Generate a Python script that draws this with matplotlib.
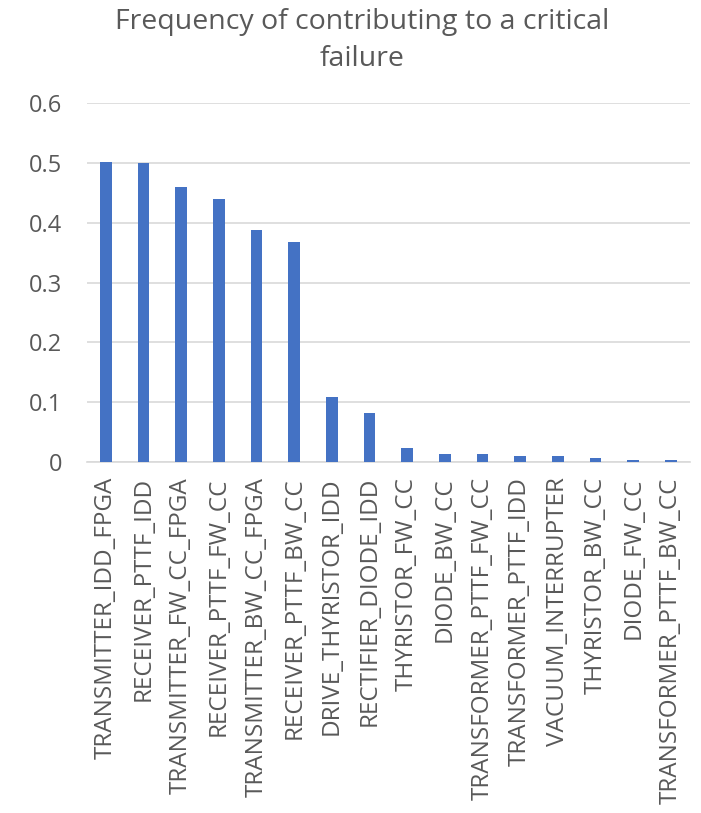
import matplotlib
matplotlib.use("Agg")
import matplotlib.pyplot as plt

# contribution frequency of each component to a critical failure
components = [
    "TRANSMITTER_IDD_FPGA", "RECEIVER_PTTF_IDD", "TRANSMITTER_FW_CC_FPGA",
    "RECEIVER_PTTF_FW_CC", "TRANSMITTER_BW_CC_FPGA", "RECEIVER_PTTF_BW_CC",
    "DRIVE_THYRISTOR_IDD", "RECTIFIER_DIODE_IDD", "THYRISTOR_FW_CC",
    "DIODE_BW_CC", "TRANSFORMER_PTTF_FW_CC", "TRANSFORMER_PTTF_IDD",
    "VACUUM_INTERRUPTER", "THYRISTOR_BW_CC", "DIODE_FW_CC",
    "TRANSFORMER_PTTF_BW_CC",
]
frequency = [0.502, 0.500, 0.460, 0.439, 0.388, 0.368, 0.108, 0.081,
             0.023, 0.013, 0.013, 0.010, 0.010, 0.007, 0.003, 0.003]
y_ticks = [0, 0.1, 0.2, 0.3, 0.4, 0.5, 0.6]

grey = "#595959"
plt.rcParams["font.family"] = ["Open Sans", "DejaVu Sans"]

fig = plt.figure(figsize=(7.01, 8.13), dpi=100)
ax = fig.add_axes([0.124, 0.432, 0.860, 0.441])

x = range(len(components))
ax.bar(x, frequency, width=0.31, color="#4472C4", zorder=3)

ax.set_xlim(-0.5, len(components) - 0.5)
ax.set_ylim(0, 0.6)
ax.set_yticks(y_ticks)
ax.set_yticklabels(["0" if v == 0 else f"{v:.1f}" for v in y_ticks])
ax.set_xticks(list(x))
ax.set_xticklabels(components, rotation=90)

ax.grid(axis="y", color="#d9d9d9", linewidth=1.2, zorder=0)
for s in ["top", "right", "left"]:
    ax.spines[s].set_visible(False)
ax.spines["bottom"].set_color("#d9d9d9")
ax.spines["bottom"].set_linewidth(1.2)
ax.tick_params(axis="both", length=0, colors=grey)
ax.tick_params(axis="y", pad=18, labelsize=17)
ax.tick_params(axis="x", pad=11, labelsize=17.5)

fig.text(0.517, 0.950, "Frequency of contributing to a critical\nfailure",
         ha="center", va="center", fontsize=20.5, color=grey, linespacing=1.4)

fig.savefig("out.png", dpi=100)
